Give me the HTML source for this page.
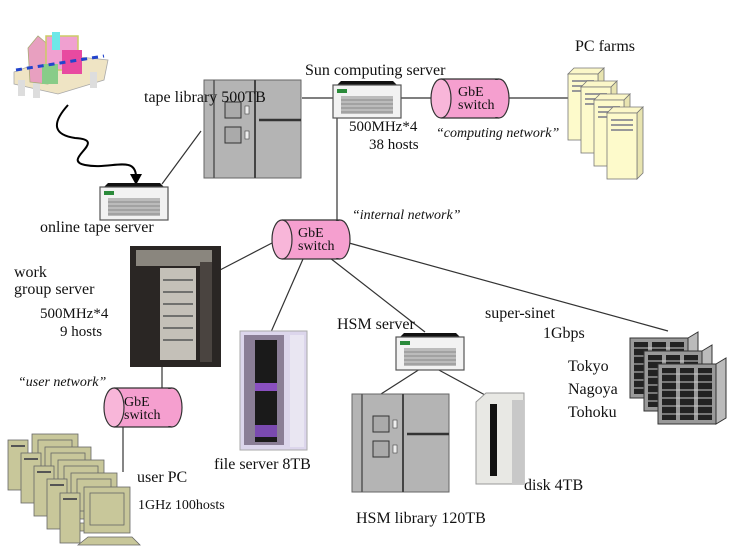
<!DOCTYPE html>
<html><head><meta charset="utf-8"><style>
html,body{margin:0;padding:0;background:#fff;}
svg{display:block;}
text{font-family:"Liberation Serif",serif;font-size:16px;fill:#111;}
.it{font-style:italic;font-size:14px;}
.sw{font-size:14px;}
</style></head><body>
<svg width="736" height="553" viewBox="0 0 736 553" xmlns="http://www.w3.org/2000/svg">
<defs>
 <g id="srv">
  <path d="M4 4 L8 0 L60 0 L64 4 Z" fill="#111"/>
  <rect x="0" y="4" width="68" height="33" fill="#f2f2f2" stroke="#555" stroke-width="1.2"/>
  <rect x="4" y="8" width="10" height="4" fill="#2a8a3a"/>
  <rect x="8" y="15" width="52" height="18" fill="#bbb"/>
  <g stroke="#888" stroke-width="1"><line x1="8" y1="19" x2="60" y2="19"/><line x1="8" y1="23" x2="60" y2="23"/><line x1="8" y1="27" x2="60" y2="27"/><line x1="8" y1="31" x2="60" y2="31"/></g>
 </g>
 <g id="cyl">
  <rect x="10" y="0" width="58" height="39" fill="#f59fcf"/>
  <line x1="10" y1="0" x2="68" y2="0" stroke="#333" stroke-width="1.2"/>
  <line x1="10" y1="39" x2="68" y2="39" stroke="#333" stroke-width="1.2"/>
  <ellipse cx="68" cy="19.5" rx="10" ry="19.5" fill="#f59fcf" stroke="#333" stroke-width="1.2"/>
  <rect x="10" y="1" width="58" height="37" fill="#f59fcf"/>
  <ellipse cx="10" cy="19.5" rx="10" ry="19.5" fill="#f8b6d9" stroke="#333" stroke-width="1.2"/>
 </g>
 <g id="tower">
  <path d="M0 6 L6 0 L36 0 L30 6 Z" fill="#fbf7c8" stroke="#777" stroke-width="0.8"/>
  <path d="M30 6 L36 0 L36 66 L30 72 Z" fill="#e8e4b0" stroke="#777" stroke-width="0.8"/>
  <rect x="0" y="6" width="30" height="66" fill="#fdfacb" stroke="#777" stroke-width="0.8"/>
  <rect x="4" y="12" width="22" height="2" fill="#999"/>
  <rect x="4" y="17" width="22" height="2" fill="#999"/>
  <rect x="4" y="22" width="22" height="2" fill="#999"/>
 </g>
 <g id="pc">
  <rect x="24" y="0" width="46" height="46" fill="#c8c79a" stroke="#666" stroke-width="0.8"/>
  <rect x="30" y="6" width="34" height="32" fill="#c8c79a" stroke="#666" stroke-width="0.8"/>
  <path d="M18 58 L28 50 L72 50 L80 58 Z" fill="#c8c79a" stroke="#666" stroke-width="0.8"/>
  <rect x="0" y="6" width="20" height="50" fill="#c8c79a" stroke="#666" stroke-width="0.8"/>
  <rect x="3" y="11" width="14" height="2" fill="#555"/>
 </g>
 <g id="lib">
  <rect x="0" y="0" width="97" height="98" fill="#b4b4b4" stroke="#666"/>
  <line x1="10" y1="0" x2="10" y2="98" stroke="#555" stroke-width="1.5"/>
  <line x1="51" y1="0" x2="51" y2="98" stroke="#444" stroke-width="2"/>
  <line x1="55" y1="40" x2="97" y2="40" stroke="#333" stroke-width="2.5"/>
  <rect x="21" y="22" width="16" height="16" fill="#aaa" stroke="#333"/>
  <rect x="21" y="47" width="16" height="16" fill="#aaa" stroke="#333"/>
  <rect x="41" y="26" width="4" height="8" fill="#eee" stroke="#444" stroke-width="0.6"/>
  <rect x="41" y="51" width="4" height="8" fill="#eee" stroke="#444" stroke-width="0.6"/>
 </g>
 <g id="rack">
  <rect x="0" y="0" width="58" height="60" fill="#999" stroke="#333"/>
  <g fill="#222"><rect x="4" y="4" width="14" height="52"/><rect x="22" y="4" width="14" height="52"/><rect x="40" y="4" width="14" height="52"/></g>
  <g stroke="#ccc" stroke-width="1"><line x1="4" y1="10" x2="54" y2="10"/><line x1="4" y1="18" x2="54" y2="18"/><line x1="4" y1="26" x2="54" y2="26"/><line x1="4" y1="34" x2="54" y2="34"/><line x1="4" y1="42" x2="54" y2="42"/><line x1="4" y1="50" x2="54" y2="50"/></g>
  <path d="M58 0 L68 -6 L68 54 L58 60 Z" fill="#bbb" stroke="#333"/>
 </g>
</defs>

<!-- lines -->
<g stroke="#333" stroke-width="1.2" fill="none">
 <line x1="201" y1="131" x2="162" y2="184"/>
 <line x1="302" y1="98" x2="334" y2="98"/>
 <line x1="401" y1="98" x2="433" y2="98"/>
 <line x1="509" y1="98" x2="570" y2="98"/>
 <line x1="337" y1="118" x2="337" y2="222"/>
 <line x1="272" y1="243" x2="220" y2="270"/>
 <line x1="303" y1="259" x2="271" y2="332"/>
 <line x1="330" y1="258" x2="425" y2="332"/>
 <line x1="349" y1="243" x2="668" y2="331"/>
 <line x1="162" y1="367" x2="162" y2="390"/>
 <line x1="123" y1="426" x2="123" y2="472"/>
 <line x1="420" y1="369" x2="381" y2="394"/>
 <line x1="437" y1="369" x2="485" y2="395"/>
 <path d="M68 105 C50 125,55 135,75 138 C110 140,60 160,85 165 C110 170,135 155,136 176" stroke="#000" stroke-width="2"/>
</g>
<path d="M130 174 L142 174 L136 185 Z" fill="#000"/>

<!-- detector -->
<g>
 <path d="M14 72 L60 55 L108 60 L104 80 L58 94 L14 84 Z" fill="#efe4c4" stroke="#aaa" stroke-width="0.8"/>
 <rect x="18" y="80" width="7" height="16" fill="#ddd"/><rect x="33" y="82" width="7" height="16" fill="#ddd"/><rect x="90" y="72" width="7" height="16" fill="#ddd"/>
 <path d="M28 48 L38 36 L52 48 L48 84 L30 82 Z" fill="#e8a0c0" stroke="#aa7" stroke-width="0.8"/>
 <rect x="46" y="36" width="32" height="34" fill="#f0a0d0" stroke="#cc6" stroke-width="1.5"/>
 <rect x="52" y="32" width="8" height="18" fill="#6ee8e8"/>
 <rect x="62" y="50" width="20" height="24" fill="#e84aa0"/>
 <rect x="42" y="64" width="16" height="20" fill="#88cc88"/>
 <line x1="16" y1="70" x2="104" y2="56" stroke="#2244cc" stroke-width="3" stroke-dasharray="6 5"/>
</g>

<!-- devices -->
<use href="#srv" x="100" y="183"/>
<use href="#srv" x="333" y="81"/>
<use href="#srv" x="396" y="333"/>
<use href="#lib" x="204" y="80"/>
<use href="#lib" x="352" y="394"/>
<use href="#cyl" x="431" y="79"/>
<use href="#cyl" x="272" y="220"/>
<use href="#cyl" x="104" y="388"/>
<use href="#tower" x="568" y="68"/>
<use href="#tower" x="581" y="81"/>
<use href="#tower" x="594" y="94"/>
<use href="#tower" x="607" y="107"/>
<use href="#pc" x="8" y="434"/>
<use href="#pc" x="21" y="447"/>
<use href="#pc" x="34" y="460"/>
<use href="#pc" x="47" y="473"/>
<use href="#pc" x="60" y="487"/>

<!-- work group server photo -->
<rect x="130" y="246" width="91" height="121" fill="#2a2624"/>
<rect x="136" y="250" width="76" height="16" fill="#8a867e"/>
<rect x="160" y="268" width="36" height="92" fill="#c4c0b8"/>
<g stroke="#555" stroke-width="1.5"><line x1="163" y1="280" x2="193" y2="280"/><line x1="163" y1="292" x2="193" y2="292"/><line x1="163" y1="304" x2="193" y2="304"/><line x1="163" y1="316" x2="193" y2="316"/><line x1="163" y1="328" x2="193" y2="328"/><line x1="163" y1="340" x2="193" y2="340"/></g>
<rect x="200" y="262" width="12" height="100" fill="#4a4440"/>

<!-- file server -->
<rect x="240" y="331" width="67" height="119" fill="#dcd6ec" stroke="#aaa"/>
<rect x="244" y="335" width="40" height="110" fill="#8a7e96"/>
<rect x="255" y="340" width="22" height="102" fill="#1a1a1a"/>
<rect x="255" y="383" width="22" height="8" fill="#8a50c0"/>
<rect x="255" y="425" width="22" height="12" fill="#7a4ab0"/>
<rect x="290" y="335" width="14" height="112" fill="#e9e6f2"/>

<!-- disk -->
<path d="M476 402 L486 393 L524 393 L524 484 L476 484 Z" fill="#e8e8e4" stroke="#999"/>
<rect x="512" y="400" width="12" height="84" fill="#c8c8c8"/>
<rect x="490" y="404" width="7" height="72" fill="#111"/>

<!-- cluster -->
<use href="#rack" x="630" y="338"/>
<use href="#rack" x="644" y="351"/>
<use href="#rack" x="658" y="364"/>

<!-- switch labels -->
<text class="sw" x="458" y="96">GbE</text><text class="sw" x="458" y="109">switch</text>
<text class="sw" x="298" y="237">GbE</text><text class="sw" x="298" y="250">switch</text>
<text class="sw" x="124" y="406">GbE</text><text class="sw" x="124" y="419">switch</text>

<!-- labels -->
<text x="144" y="102">tape library 500TB</text>
<text x="305" y="75">Sun computing server</text>
<text x="349" y="131" style="font-size:15px">500MHz*4</text>
<text x="369" y="149" style="font-size:15px">38 hosts</text>
<text class="it" x="436" y="137">“computing network”</text>
<text x="575" y="51">PC farms</text>
<text x="40" y="232">online tape server</text>
<text class="it" x="352" y="219">“internal network”</text>
<text x="14" y="277">work</text>
<text x="14" y="294">group server</text>
<text x="40" y="318" style="font-size:15px">500MHz*4</text>
<text x="60" y="336" style="font-size:15px">9 hosts</text>
<text class="it" x="18" y="386">“user network”</text>
<text x="137" y="482">user PC</text>
<text x="138" y="509" style="font-size:14px">1GHz 100hosts</text>
<text x="214" y="469">file server 8TB</text>
<text x="337" y="329">HSM server</text>
<text x="356" y="523">HSM library 120TB</text>
<text x="524" y="490">disk 4TB</text>
<text x="485" y="318">super-sinet</text>
<text x="543" y="338">1Gbps</text>
<text x="568" y="371">Tokyo</text>
<text x="568" y="394">Nagoya</text>
<text x="568" y="417">Tohoku</text>
</svg>
</body></html>
